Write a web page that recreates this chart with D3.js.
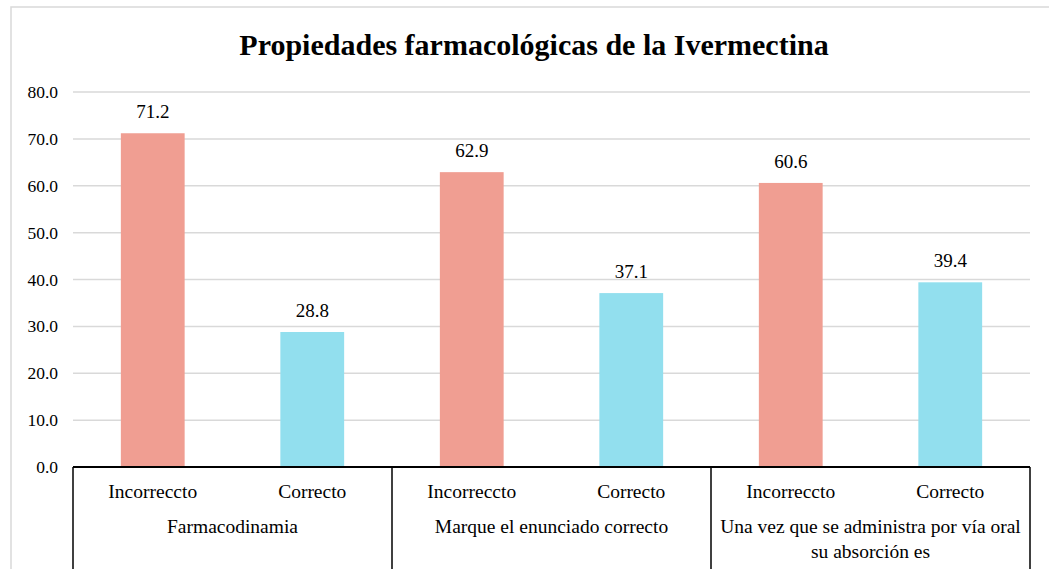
<!DOCTYPE html>
<html><head><meta charset="utf-8">
<script src="https://cdn.jsdelivr.net/npm/d3@7"></script>
<style>body{margin:0;background:#fff}svg{display:block}svg text{font-family:"Liberation Serif","Times New Roman",serif !important;fill:#000}</style>
</head><body><div id="c"></div>
<script>
const title = "Propiedades farmacológicas de la Ivermectina";
const groups = ["Farmacodinamia", "Marque el enunciado correcto", "Una vez que se administra por vía oral su absorción es"];
const groupLines = [["Farmacodinamia"], ["Marque el enunciado correcto"], ["Una vez que se administra por vía oral", "su absorción es"]];
const subcats = ["Incorreccto", "Correcto"];
const values = [71.2, 28.8, 62.9, 37.1, 60.6, 39.4];
const yTicks = [0, 10, 20, 30, 40, 50, 60, 70, 80];
const colors = ["#F09E92", "#92DFEE"];

(function () {
const W = 1049, H = 569;
const FF = "Liberation Serif";
const svg = d3.select("#c").append("svg").attr("width", W).attr("height", H).attr("font-family", FF);
svg.append("rect").attr("x", 11).attr("y", 7).attr("width", 1050).attr("height", 600)
  .attr("fill", "#fff").attr("stroke", "#d9d9d9").attr("stroke-width", 1.5);

const pL = 73, pR = 1030, pT = 92, pB = 467;
const items = [];
groups.forEach((g, gi) => subcats.forEach((s, si) => items.push({g: gi, s: si, key: gi + "-" + si, v: values[gi * 2 + si]})));
const x = d3.scaleBand().domain(items.map(d => d.key)).range([pL, pR]).paddingInner(0.6).paddingOuter(0.3);
const y = d3.scaleLinear().domain([0, 80]).range([pB, pT]);

svg.append("text").attr("x", 534).attr("y", 55).attr("text-anchor", "middle")
  .attr("font-family", FF).style("font-size", "30px").style("font-weight", "bold").text(title);

svg.append("g").selectAll("line").data(yTicks.filter(t => t > 0)).join("line")
  .attr("x1", pL).attr("x2", pR).attr("y1", d => y(d)).attr("y2", d => y(d))
  .attr("stroke", "#d9d9d9").attr("stroke-width", 1.5);

const yAxis = d3.axisLeft(y).tickValues(yTicks).tickFormat(d3.format(".1f")).tickSize(0).tickPadding(15);
const ga = svg.append("g").attr("transform", `translate(${pL},0)`).call(yAxis);
ga.attr("font-family", FF).attr("font-size", 17.5);
ga.select(".domain").remove();
ga.selectAll("text").attr("font-family", FF).style("font-size", "17.5px").attr("fill", "#000");

svg.append("g").selectAll("text").data(items).join("text")
  .attr("x", d => x(d.key) + x.bandwidth() / 2).attr("y", d => y(d.v) - 15)
  .attr("text-anchor", "middle").attr("font-family", FF).style("font-size", "19px").text(d => d.v.toFixed(1));

svg.append("g").selectAll("rect").data(items).join("rect")
  .attr("x", d => x(d.key)).attr("width", x.bandwidth())
  .attr("y", d => y(d.v)).attr("height", d => y(0) - y(d.v))
  .attr("fill", d => colors[d.s]);

const step = (pR - pL) / groups.length;
svg.append("line").attr("x1", pL).attr("x2", pR).attr("y1", pB).attr("y2", pB)
  .attr("stroke", "#000").attr("stroke-width", 2);
svg.append("g").selectAll("line").data(d3.range(groups.length + 1)).join("line")
  .attr("x1", i => pL + i * step).attr("x2", i => pL + i * step)
  .attr("y1", pB).attr("y2", H).attr("stroke", "#000").attr("stroke-width", 1.5);

svg.append("g").selectAll("text").data(items).join("text")
  .attr("x", d => x(d.key) + x.bandwidth() / 2).attr("y", 498)
  .attr("text-anchor", "middle").attr("font-family", FF).style("font-size", "19.5px").text(d => subcats[d.s]);

groupLines.forEach((lines, gi) => {
  lines.forEach((ln, li) => {
    svg.append("text").attr("x", pL + step * (gi + 0.5)).attr("y", 533 + li * 25)
      .attr("text-anchor", "middle").attr("font-family", FF).style("font-size", "19.5px").text(ln);
  });
});
})();
</script></body></html>
